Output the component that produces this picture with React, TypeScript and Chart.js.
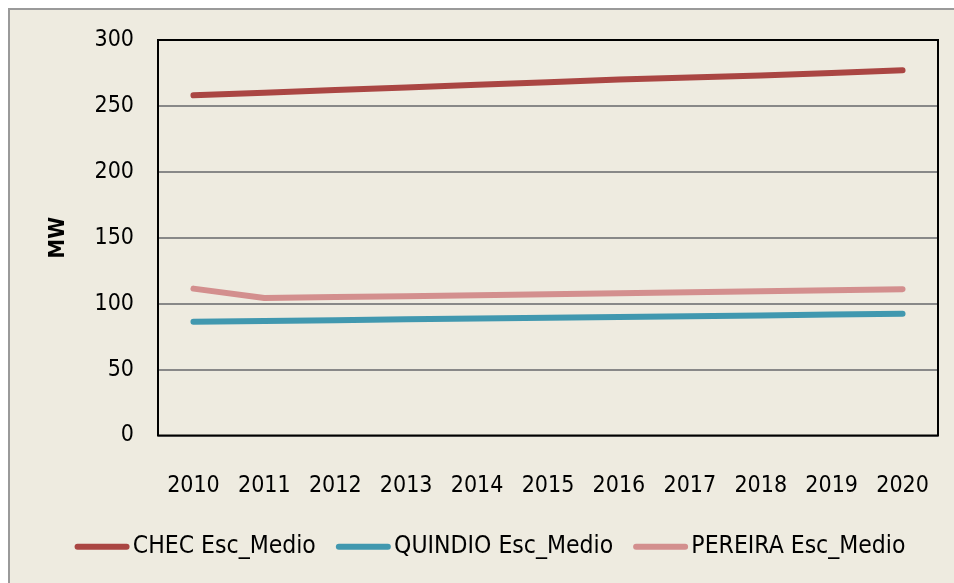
import React, { useEffect, useRef } from "react";
import { Chart, registerables } from "chart.js";
Chart.register(...registerables);

const years = ["2010", "2011", "2012", "2013", "2014", "2015", "2016", "2017", "2018", "2019", "2020"];
const chec = [258, 260, 262, 264, 266, 268, 270, 271.5, 273, 275, 277];
const quindio = [86.3, 86.9, 87.5, 88.1, 88.7, 89.3, 89.9, 90.5, 91.1, 91.7, 92.4];
const pereira = [111.4, 104.3, 105, 105.7, 106.4, 107.2, 107.9, 108.6, 109.4, 110.2, 111];
const yTicks = [0, 50, 100, 150, 200, 250, 300];

const FONT = "'DejaVu Sans Condensed', 'DejaVu Sans', sans-serif";
const BG = "#EEEBE0";
const COLORS = ["#AA4643", "#4198AF", "#D38F8E"];

const frame = {
  id: "frame",
  afterDatasetsDraw(chart: any) {
    const { ctx, chartArea: a } = chart;
    ctx.save();
    ctx.strokeStyle = "#000";
    ctx.lineWidth = 2;
    ctx.strokeRect(a.left, a.top, a.right - a.left, a.bottom - a.top);
    ctx.restore();
  },
  afterDraw(chart: any) {
    const lg = chart.legend;
    if (!lg || !lg.legendHitBoxes) return;
    const { ctx } = chart;
    ctx.save();
    ctx.lineWidth = 6;
    ctx.lineCap = "round";
    lg.legendHitBoxes.forEach((hb: any, i: number) => {
      const cy = hb.top + hb.height / 2;
      ctx.strokeStyle = chart.data.datasets[i].borderColor;
      ctx.beginPath();
      ctx.moveTo(hb.left + 3, cy);
      ctx.lineTo(hb.left + 52, cy);
      ctx.stroke();
    });
    ctx.restore();
  },
};

export default function App() {
  const ref = useRef<HTMLCanvasElement>(null);
  useEffect(() => {
    const chart = new Chart(ref.current!, {
      type: "line",
      data: {
        labels: years,
        datasets: [
          { label: "CHEC Esc_Medio", data: chec, borderColor: COLORS[0], backgroundColor: COLORS[0] },
          { label: "QUINDIO Esc_Medio", data: quindio, borderColor: COLORS[1], backgroundColor: COLORS[1] },
          { label: "PEREIRA Esc_Medio", data: pereira, borderColor: COLORS[2], backgroundColor: COLORS[2] },
        ].map((d) => ({ ...d, borderWidth: 6, pointRadius: 0, borderCapStyle: "round", borderJoinStyle: "round", tension: 0 })),
      },
      options: {
        animation: false,
        responsive: false,
        layout: { padding: { top: 30, right: 16, bottom: 14, left: 32 } },
        plugins: {
          tooltip: { enabled: false },
          legend: {
            position: "bottom",
            labels: {
              font: { family: FONT, size: 24.5 },
              color: "#000",
              boxWidth: 46,
              boxHeight: 6,
              padding: 20,
              generateLabels: (c: any) =>
                c.data.datasets.map((d: any, i: number) => ({
                  text: d.label,
                  fillStyle: "rgba(0,0,0,0)",
                  strokeStyle: "rgba(0,0,0,0)",
                  lineWidth: 0,
                  datasetIndex: i,
                  hidden: false,
                  fontColor: "#000",
                })),
            },
          },
        },
        scales: {
          x: {
            offset: true,
            grid: { display: false, drawTicks: false },
            border: { display: false },
            ticks: { font: { family: FONT, size: 23 }, color: "#000", padding: 37, maxRotation: 0 },
            afterFit: (s: any) => { s.height = 79; s.paddingLeft = 0; s.paddingRight = 0; },
          },
          y: {
            min: 0,
            max: 300,
            afterBuildTicks: (s: any) => { s.ticks = yTicks.map((v) => ({ value: v })); },
            grid: { color: "#888888", lineWidth: 2, drawTicks: false },
            border: { display: false },
            ticks: { font: { family: FONT, size: 23 }, color: "#000", padding: 24 },
            title: { display: true, text: "MW", font: { family: FONT, size: 22, weight: "bold" }, color: "#000", padding: { top: 3, bottom: 0 } },
            afterFit: (s: any) => { s.width = 116; s.paddingTop = 0; s.paddingBottom = 0; },
          },
        },
      },
      plugins: [frame],
    });
    return () => chart.destroy();
  }, []);
  return (
    <div style={{ position: "fixed", left: 8, top: 8, width: 946, height: 575, borderTop: "2px solid #9a9a9a", borderLeft: "2px solid #9a9a9a", background: BG, boxSizing: "border-box", overflow: "hidden" }}>
      <canvas ref={ref} width={944} height={573} style={{ display: "block" }} />
    </div>
  );
}
